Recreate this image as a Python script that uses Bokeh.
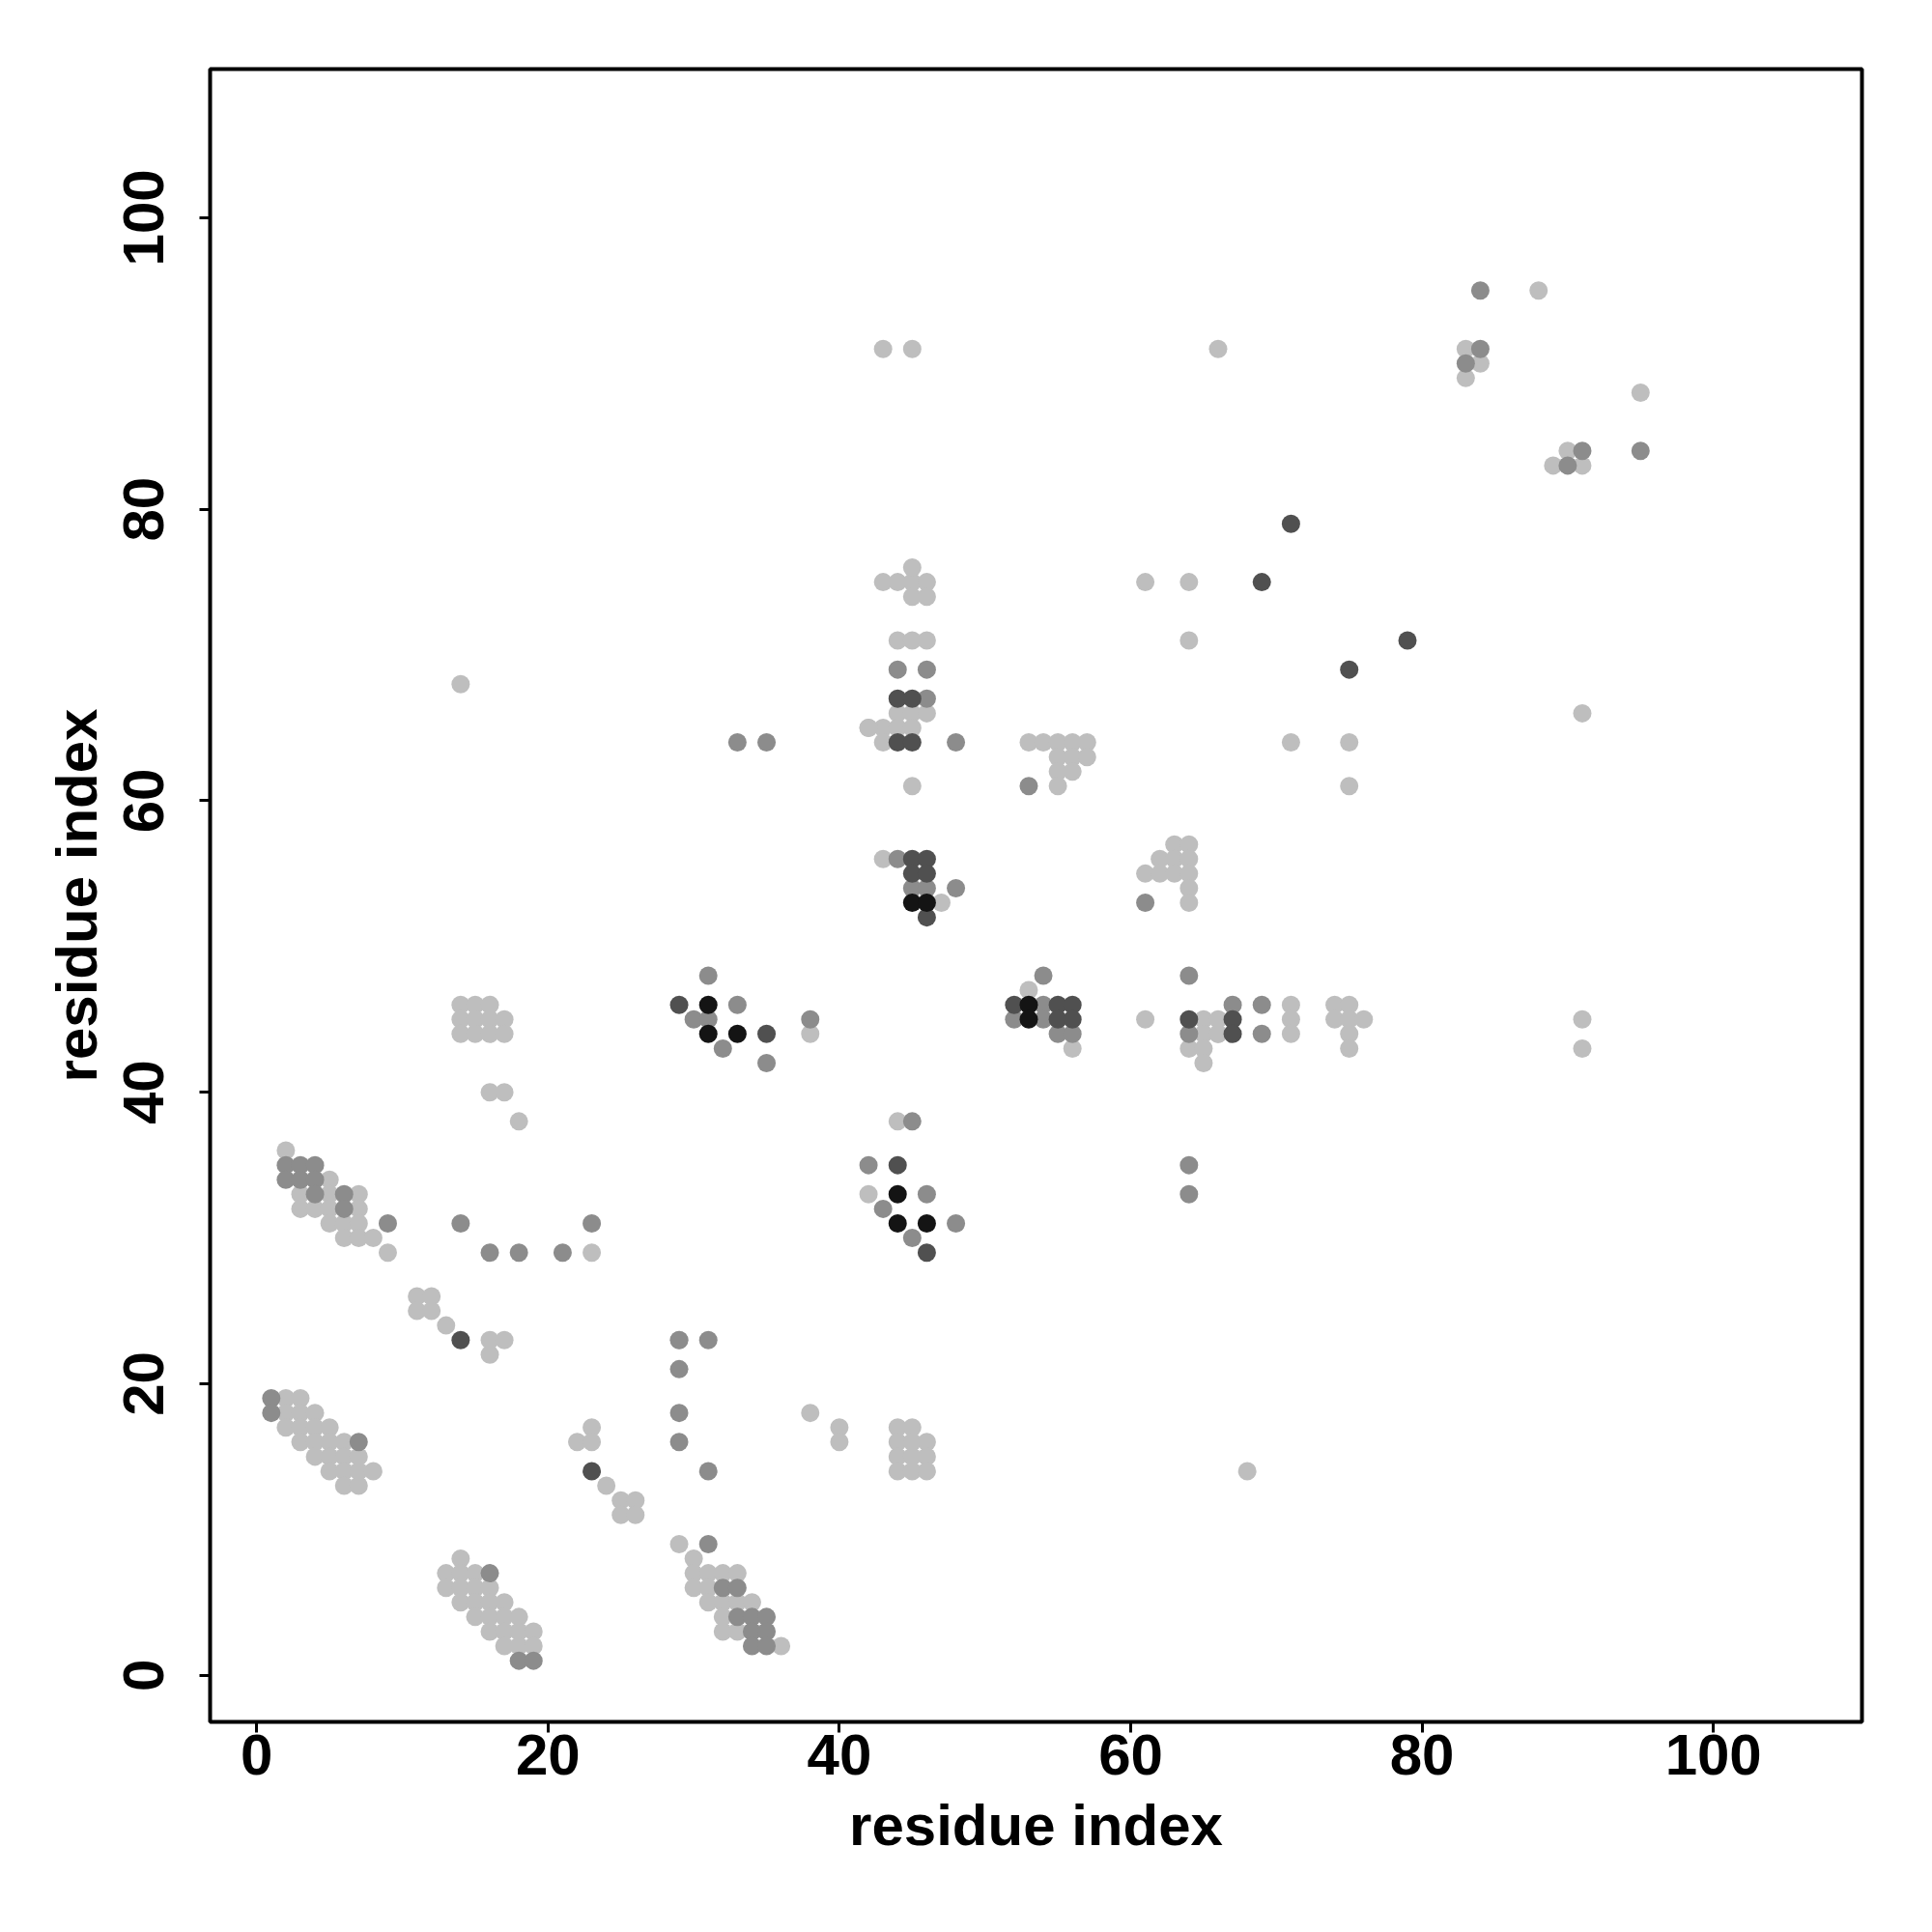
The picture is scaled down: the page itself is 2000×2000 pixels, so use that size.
from bokeh.plotting import figure
from bokeh.models import Range1d, FixedTicker, ColumnDataSource
from bokeh.embed import file_html
from bokeh.resources import INLINE

# ---- data: contact pairs (residue i, residue j) grouped by shade ----
light_i = [2,3,2,3,4,2,3,4,5,3,4,5,6,4,5,6,7,5,6,7,8,6,7,
           14,13,14,15,13,14,15,16,14,15,16,17,15,16,17,18,16,17,18,19,17,18,19,
           29,30,30,31,32,33,30,31,31,32,33,34,32,32,33,36,
           16,17,16,29,23,22,23,24,25,26,25,26,38,40,40,
           44,45,44,45,46,44,45,46,44,45,46,68,
           2,5,3,5,7,3,4,5,7,5,6,7,6,7,8,9,23,11,12,11,12,13,
           14,15,16,14,15,16,17,14,15,16,17,16,17,18,14,
           38,44,42,53,56,61,64,65,65,65,65,66,71,74,75,66,71,74,75,76,66,71,75,75,91,91,
           43,47,44,45,46,44,45,46,42,43,44,45,43,45,
           43,44,45,46,45,45,46,43,45,
           53,54,55,56,57,55,56,57,55,56,55,
           63,64,62,63,64,61,62,63,64,64,64,
           64,61,64,66,71,75,75,91,88,83,84,83,95,90,89,91,42]
light_j = [19,19,18,18,18,17,17,17,17,16,16,16,16,15,15,15,15,14,14,14,14,13,13,
           8,7,7,7,6,6,6,6,5,5,5,5,4,4,4,4,3,3,3,3,2,2,2,
           9,8,7,7,7,7,6,6,5,5,5,5,4,3,3,2,
           23,23,22,23,17,16,16,13,12,12,11,11,18,17,16,
           17,17,16,16,16,15,15,15,14,14,14,14,
           36,34,33,33,33,32,32,32,32,31,31,31,30,30,30,29,29,26,26,25,25,24,
           46,46,46,45,45,45,45,44,44,44,44,40,40,38,68,
           44,38,33,47,43,45,43,45,44,43,42,44,46,46,46,45,45,45,45,45,44,44,44,43,45,43,
           56,53,71,71,71,66,66,66,65,65,65,65,64,61,
           75,75,75,75,76,74,74,91,91,
           64,64,64,64,64,63,63,63,62,62,61,
           57,57,56,56,56,55,55,55,55,54,53,
           71,75,75,91,64,64,61,66,95,91,90,89,88,84,83,83,65]

medium_i = [1,1,7,16,18,19,29,31,32,33,33,34,35,34,35,34,35,
            31,29,29,29,31,9,14,23,16,18,21,
            2,3,4,2,3,4,4,6,6,
            31,33,30,31,38,32,35,45,42,46,43,45,48,
            54,54,52,54,55,56,64,64,69,67,69,64,64,
            44,45,46,48,53,61,
            44,46,46,48,33,35,
            84,84,83,91,95,90]
medium_j = [19,18,16,7,1,1,23,9,6,6,4,4,4,3,3,2,2,
            23,21,18,16,14,31,31,31,29,29,29,
            35,35,35,34,34,34,33,33,32,
            48,46,45,45,45,43,42,38,35,33,32,30,31,
            48,46,45,45,44,44,48,44,44,46,46,35,33,
            56,54,54,54,61,53,
            69,69,67,64,64,64,
            95,91,90,84,84,83]

dark_i = [14,23,29,35,44,46,52,55,56,55,56,64,67,67,
          45,46,45,46,46,44,45,69,71,79,75,44,45]
dark_j = [23,14,46,44,35,29,46,46,46,45,45,45,45,44,
          56,56,55,55,52,67,67,75,79,71,69,64,64]

black_i = [31,31,33,44,44,46,53,53,45,46]
black_j = [46,44,44,33,31,31,46,45,53,53]

shades = ["#BEBEBE", "#8C8C8C", "#505050", "#141414"]
x_ticks = [0, 20, 40, 60, 80, 100]
y_ticks = [0, 20, 40, 60, 80, 100]

FONT = "Liberation Sans"

p = figure(frame_width=1710, frame_height=1711,
           x_range=Range1d(-3.2, 110.2), y_range=Range1d(-3.2, 110.2),
           output_backend="svg", toolbar_location=None,
           min_border_left=217, min_border_right=57,
           min_border_top=71, min_border_bottom=202,
           background_fill_color="white", border_fill_color="white")

for xs, ys, col in [(light_i, light_j, shades[0]), (medium_i, medium_j, shades[1]),
                    (dark_i, dark_j, shades[2]), (black_i, black_j, shades[3])]:
    src = ColumnDataSource(dict(x=xs, y=ys))
    p.scatter("x", "y", source=src, size=19, marker="circle",
              fill_color=col, line_color=None)

p.xgrid.grid_line_color = None
p.ygrid.grid_line_color = None
p.outline_line_color = "black"
p.outline_line_width = 4

p.xaxis.ticker = FixedTicker(ticks=x_ticks)
p.yaxis.ticker = FixedTicker(ticks=y_ticks)
for ax in (p.xaxis[0], p.yaxis[0]):
    ax.axis_line_color = None
    ax.major_tick_line_width = 3
    ax.major_tick_line_color = "black"
    ax.major_tick_out = 11
    ax.major_tick_in = 0
    ax.minor_tick_line_color = None
    ax.major_label_text_font = FONT
    ax.major_label_text_font_style = "bold"
    ax.major_label_text_font_size = "60px"
    ax.major_label_text_color = "black"
    ax.axis_label = "residue index"
    ax.axis_label_text_font = FONT
    ax.axis_label_text_font_style = "bold"
    ax.axis_label_text_font_size = "60px"
    ax.axis_label_text_color = "black"

p.xaxis.major_label_standoff = 2
p.xaxis.axis_label_standoff = 16
p.yaxis.major_label_orientation = "vertical"
p.yaxis.major_label_standoff = 37
p.yaxis.axis_label_standoff = 13

open("out.html", "w").write(file_html(p, INLINE))
